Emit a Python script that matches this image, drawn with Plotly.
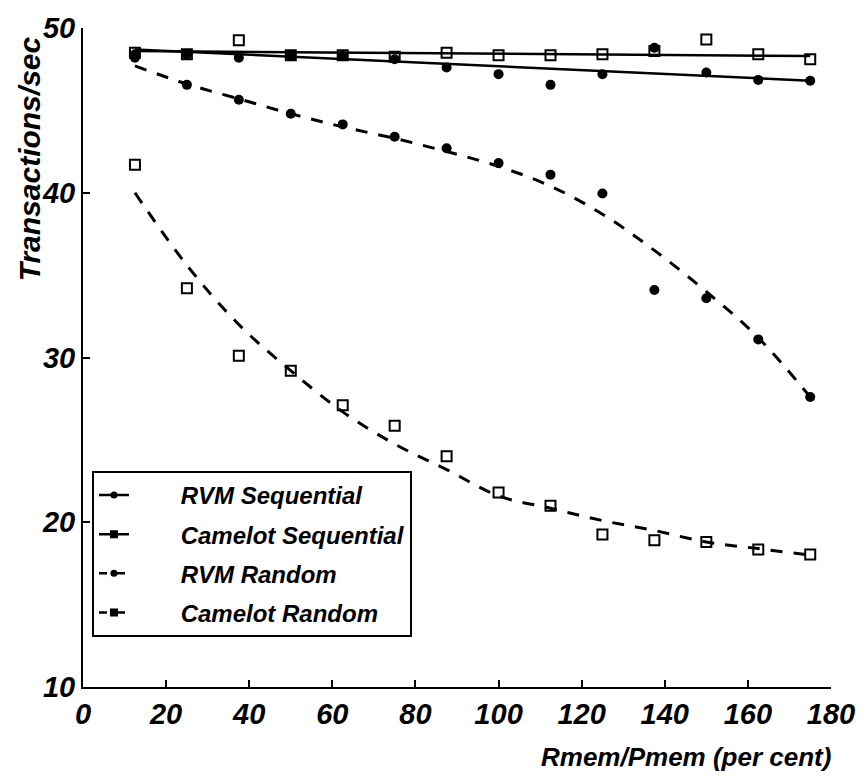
import plotly.graph_objects as go

# ---- data ----
x_pts = [12.5, 25, 37.5, 50, 62.5, 75, 87.5, 100, 112.5, 125, 137.5, 150, 162.5, 175]

rvm_seq = [48.4, 48.4, 48.2, 48.3, 48.3, 48.1, 47.6, 47.2, 46.55, 47.2, 48.8, 47.3, 46.85, 46.8]
camelot_seq = [48.5, 48.4, 49.25, 48.35, 48.35, 48.25, 48.5, 48.35, 48.35, 48.4, 48.6, 49.3, 48.4, 48.1]
rvm_rand = [48.2, 46.55, 45.65, 44.8, 44.15, 43.4, 42.7, 41.8, 41.1, 39.95, 34.1, 33.6, 31.1, 27.6]
camelot_rand = [41.7, 34.2, 30.1, 29.2, 27.1, 25.85, 24.0, 21.8, 21.0, 19.25, 18.9, 18.8, 18.35, 18.05]

# fitted curves
x_seq_fit = [12.5, 175]
rvm_seq_fit = [48.7, 46.8]
camelot_seq_fit = [48.6, 48.3]
rvm_rand_fit = [47.7, 46.6, 45.7, 44.8, 44.0, 43.3, 42.5, 41.6, 40.4, 38.7, 36.5, 34.0, 31.2, 27.6]
camelot_rand_fit = [40.0, 35.6, 32.0, 29.2, 26.7, 24.75, 23.2, 21.6, 20.85, 20.1, 19.5, 18.8, 18.4, 18.0]

series_names = ["RVM Sequential", "Camelot Sequential", "RVM Random", "Camelot Random"]
x_ticks = [0, 20, 40, 60, 80, 100, 120, 140, 160, 180]
y_ticks = [10, 20, 30, 40, 50]

FONT = "Liberation Sans, Arial, sans-serif"
BLACK = "black"

fig = go.Figure()

rvm_marker = dict(symbol="circle", size=10, color=BLACK)
cam_marker = dict(symbol="square-open", size=10, color=BLACK, line=dict(width=2, color=BLACK))

# fit lines
fig.add_trace(go.Scatter(x=x_seq_fit, y=rvm_seq_fit, mode="lines",
                         line=dict(color=BLACK, width=2.5), showlegend=False, hoverinfo="skip"))
fig.add_trace(go.Scatter(x=x_seq_fit, y=camelot_seq_fit, mode="lines",
                         line=dict(color=BLACK, width=2.5), showlegend=False, hoverinfo="skip"))
fig.add_trace(go.Scatter(x=x_pts, y=rvm_rand_fit, mode="lines", line_shape="spline",
                         line=dict(color=BLACK, width=3, dash="12px,11px"), showlegend=False, hoverinfo="skip"))
fig.add_trace(go.Scatter(x=x_pts, y=camelot_rand_fit, mode="lines", line_shape="spline",
                         line=dict(color=BLACK, width=3, dash="12px,11px"), showlegend=False, hoverinfo="skip"))

# data markers
fig.add_trace(go.Scatter(x=x_pts, y=camelot_seq, mode="markers", marker=cam_marker, showlegend=False))
fig.add_trace(go.Scatter(x=x_pts, y=rvm_seq, mode="markers", marker=rvm_marker, showlegend=False))
fig.add_trace(go.Scatter(x=x_pts, y=rvm_rand, mode="markers", marker=rvm_marker, showlegend=False))
fig.add_trace(go.Scatter(x=x_pts, y=camelot_rand, mode="markers", marker=cam_marker, showlegend=False))

# legend entries
legend_styles = [
    (dict(color=BLACK, width=2.5), dict(symbol="circle", size=7, color=BLACK)),
    (dict(color=BLACK, width=2.5), dict(symbol="square", size=8, color=BLACK)),
    (dict(color=BLACK, width=2.5, dash="8px,10px"), dict(symbol="circle", size=7, color=BLACK)),
    (dict(color=BLACK, width=2.5, dash="8px,10px"), dict(symbol="square", size=8, color=BLACK)),
]
PAD = "\u00a0" * 7
for i, (name, (ln, mk)) in enumerate(zip(series_names, legend_styles)):
    fig.add_trace(go.Scatter(x=[None], y=[None], mode="lines+markers", name=PAD + name,
                             line=ln, marker=mk, legendgroup=f"g{i}", showlegend=True))

axis_common = dict(
    showline=True, linecolor=BLACK, linewidth=2, mirror=False,
    ticks="inside", ticklen=7, tickwidth=1.5, tickcolor=BLACK,
    showgrid=False, zeroline=False,
    tickfont=dict(family=FONT, size=29, color=BLACK, weight="bold", style="italic"),
)

fig.update_layout(
    width=867, height=779,
    margin=dict(l=83, r=34, t=20, b=92),
    paper_bgcolor="white", plot_bgcolor="white",
    xaxis=dict(range=[0, 180], tickvals=x_ticks, ticktext=[str(v) for v in x_ticks], **axis_common),
    yaxis=dict(range=[10, 50], tickvals=y_ticks, ticktext=[str(v) for v in y_ticks], **axis_common),
    legend=dict(x=0.012, y=0.328, xanchor="left", yanchor="top",
                bordercolor=BLACK, borderwidth=2, bgcolor="white",
                font=dict(family=FONT, size=24, color=BLACK, weight="bold", style="italic"),
                tracegroupgap=5, traceorder="grouped"),
    annotations=[
        dict(text="Rmem/Pmem (per cent)", xref="paper", yref="paper", x=1.003, y=-0.106,
             xanchor="right", yanchor="middle", showarrow=False,
             font=dict(family=FONT, size=26, color=BLACK, weight="bold", style="italic")),
        dict(text="Transactions/sec", xref="paper", yref="paper", x=-0.071, y=0.802,
             xanchor="center", yanchor="middle", textangle=-90, showarrow=False,
             font=dict(family=FONT, size=30, color=BLACK, weight="bold", style="italic")),
    ],
)

fig.write_html("out.html")
